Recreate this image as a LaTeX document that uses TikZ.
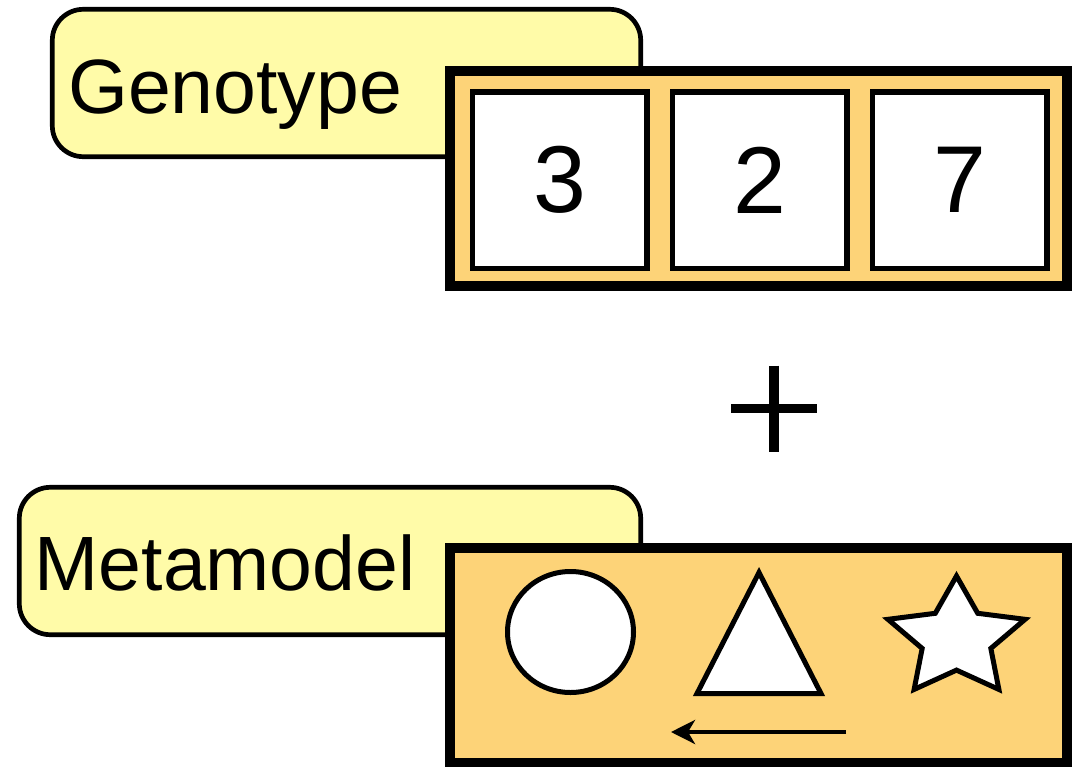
\documentclass[tikz,border=0pt]{standalone}
\usepackage{fontspec}
\setmainfont{Liberation Sans}
\usetikzlibrary{arrows.meta,calc}
\definecolor{labelYellow}{HTML}{FFFBA8}
\definecolor{slotOrange}{HTML}{FDD378}

\begin{document}
\begin{tikzpicture}[x=1pt, y=-1pt,
      labelbox/.style={draw, line width=4.7pt, fill=labelYellow, rounded corners=31pt, inner sep=0pt},
      labeltext/.style={inner sep=0pt, anchor=base west, font=\fontsize{77}{80}\selectfont},
      framebox/.style={draw, line width=10pt, fill=slotOrange, minimum width=617pt, minimum height=215pt, inner sep=0pt},
      cell/.style={draw, line width=5.5pt, fill=white, minimum width=174.5pt, minimum height=176.5pt, inner sep=0pt, font=\fontsize{95}{95}\selectfont},
      shapeline/.style={draw, line width=5pt, fill=white, line join=miter}]
      \useasboundingbox (0,0) rectangle (1082,766);

      % Genotype row
      \node[labelbox, minimum width=588.4pt, minimum height=147.4pt] (genoTag) at (346.5,83) {};
      \node[labeltext] (genoText) at ($(genoTag.west)+(18,30)$) {Genotype};
      \node[framebox] (genoFrame) at (758.5,178.5) {};
      \foreach \v [count=\i] in {3,2,7} {
            \node[cell] (gene\i) at ({359.5+200*\i},180) {\v};
      }

      % plus sign
      \coordinate (plus) at (774,408.5);
      \draw[line width=9.5pt] ($(plus)+(-43,0)$) -- ($(plus)+(43,0)$);
      \draw[line width=9.5pt] ($(plus)+(0,-43)$) -- ($(plus)+(0,43)$);

      % Metamodel row
      \node[labelbox, minimum width=621.4pt, minimum height=147.4pt] (metaTag) at (330,561) {};
      \node[labeltext] (metaText) at ($(metaTag.west)+(17.5,29)$) {Metamodel};
      \node[framebox] (metaFrame) at (758.5,655.5) {};

      \draw[shapeline] (570.5,632) ellipse [x radius=63, y radius=60.5];
      \draw[shapeline] (759,572.5) -- (821,693.5) -- (697,693.5) -- cycle;
      \begin{scope}[shift={(956.5,638.7)}, xscale=1.15]
            \draw[shapeline] (270:62.7)
                  \foreach \k in {1,...,4} { -- ({234+72*\k}:31.4) -- ({270+72*\k}:62.7) }
                  -- (594:31.4) -- cycle;
      \end{scope}

      \coordinate (pushFrom) at (846,732);
      \coordinate (pushTo) at (671,732);
      \draw[-{Stealth[length=24pt, width=24pt, inset=7pt]}, line width=4.5pt] (pushFrom) -- (pushTo);
\end{tikzpicture}
\end{document}
